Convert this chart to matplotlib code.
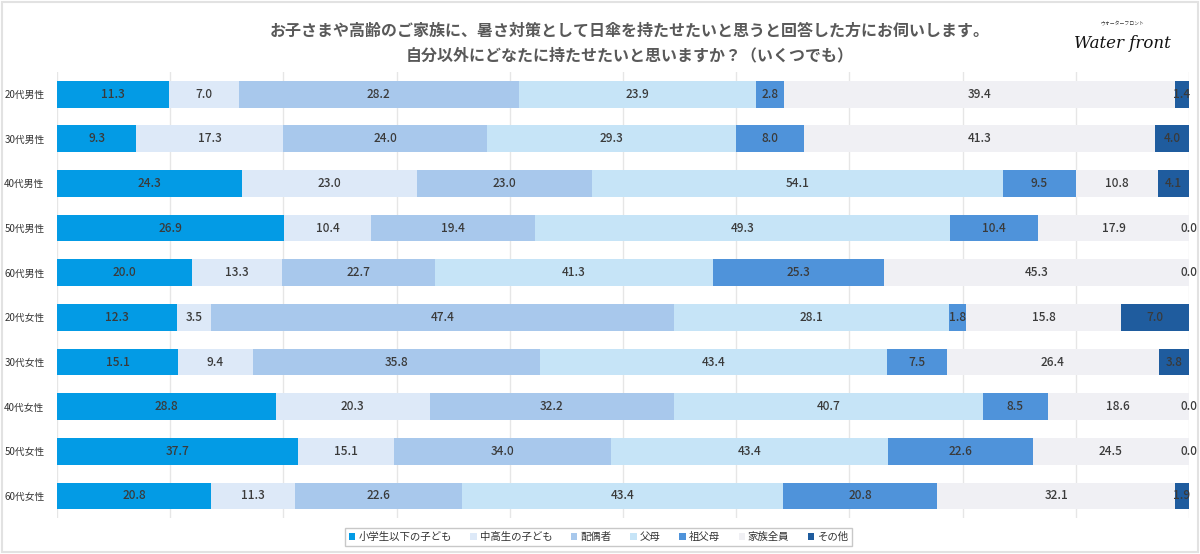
import matplotlib.pyplot as plt
import numpy as np
from matplotlib.patches import Rectangle

plt.rcParams['font.family'] = ['Noto Sans CJK JP', 'DejaVu Sans']

# データ
groups = ['20代男性', '30代男性', '40代男性', '50代男性', '60代男性',
          '20代女性', '30代女性', '40代女性', '50代女性', '60代女性']
series = ['小学生以下の子ども', '中高生の子ども', '配偶者', '父母', '祖父母', '家族全員', 'その他']
shogakusei = [11.3, 9.3, 24.3, 26.9, 20.0, 12.3, 15.1, 28.8, 37.7, 20.8]
chukosei = [7.0, 17.3, 23.0, 10.4, 13.3, 3.5, 9.4, 20.3, 15.1, 11.3]
haiguusha = [28.2, 24.0, 23.0, 19.4, 22.7, 47.4, 35.8, 32.2, 34.0, 22.6]
fubo = [23.9, 29.3, 54.1, 49.3, 41.3, 28.1, 43.4, 40.7, 43.4, 43.4]
sofubo = [2.8, 8.0, 9.5, 10.4, 25.3, 1.8, 7.5, 8.5, 22.6, 20.8]
kazoku = [39.4, 41.3, 10.8, 17.9, 45.3, 15.8, 26.4, 18.6, 24.5, 32.1]
sonota = [1.4, 4.0, 4.1, 0.0, 0.0, 7.0, 3.8, 0.0, 0.0, 1.9]

colors = ['#039be5', '#dde9f8', '#a8c8ec', '#c6e4f7', '#4f93da', '#f0f0f4', '#1f5c9e']

vals = np.array([shogakusei, chukosei, haiguusha, fubo, sofubo, kazoku, sonota])
totals = vals.sum(axis=0)
pct = vals / totals * 100

fig = plt.figure(figsize=(12, 5.54), dpi=100)
ax = fig.add_axes([0.0475, 0.0644, 0.9433, 0.806])

y = np.arange(len(groups))
left = np.zeros(len(groups))
for i, name in enumerate(series):
    ax.barh(y, pct[i], left=left, height=0.6, color=colors[i], label=name, zorder=2)
    for j in range(len(groups)):
        ax.text(left[j] + pct[i][j] / 2, y[j], f'{vals[i][j]:.1f}',
                ha='center', va='center', fontsize=8.5, fontweight='medium',
                color='#3a3a3a', zorder=3)
    left += pct[i]

ax.set_xlim(0, 100)
ax.set_ylim(len(groups) - 0.5, -0.5)
ax.set_xticks(np.arange(0, 101, 10))
ax.xaxis.grid(True, color='#e6e6e6', linewidth=1, zorder=0)
ax.tick_params(axis='x', length=0, labelbottom=False)
ax.tick_params(axis='y', length=0, pad=9)
ax.set_yticks(y)
ax.set_yticklabels(groups, fontsize=7, color='#333333')
for s in ax.spines.values():
    s.set_visible(False)

fig.text(0.525, 0.945, 'お子さまや高齢のご家族に、暑さ対策として日傘を持たせたいと思うと回答した方にお伺いします。',
         ha='center', va='center', fontsize=11.5, fontweight='bold', color='#595959')
fig.text(0.525, 0.9, '自分以外にどなたに持たせたいと思いますか？（いくつでも）',
         ha='center', va='center', fontsize=11.5, fontweight='bold', color='#595959')

# ロゴ
fig.text(0.935, 0.957, 'ウォーターフロント', ha='center', va='center', fontsize=3.5, color='#333333')
fig.text(0.935, 0.922, 'Water front', ha='center', va='center', fontsize=12,
         family='DejaVu Serif', style='italic', color='#111111')

leg = fig.legend(loc='center', bbox_to_anchor=(0.499, 0.031), ncol=7, fontsize=7.5,
                 frameon=True, fancybox=False, edgecolor='#bbbbbb', handlelength=0.6,
                 handleheight=0.6, handletextpad=0.3, columnspacing=1.8,
                 borderpad=0.35)
for t in leg.get_texts():
    t.set_color('#333333')

fig.patches.append(Rectangle((0.002, 0.003), 0.996, 0.994, transform=fig.transFigure,
                             fill=False, edgecolor='#e2e2e2', linewidth=1.5))

fig.savefig('out.png', dpi=100)
